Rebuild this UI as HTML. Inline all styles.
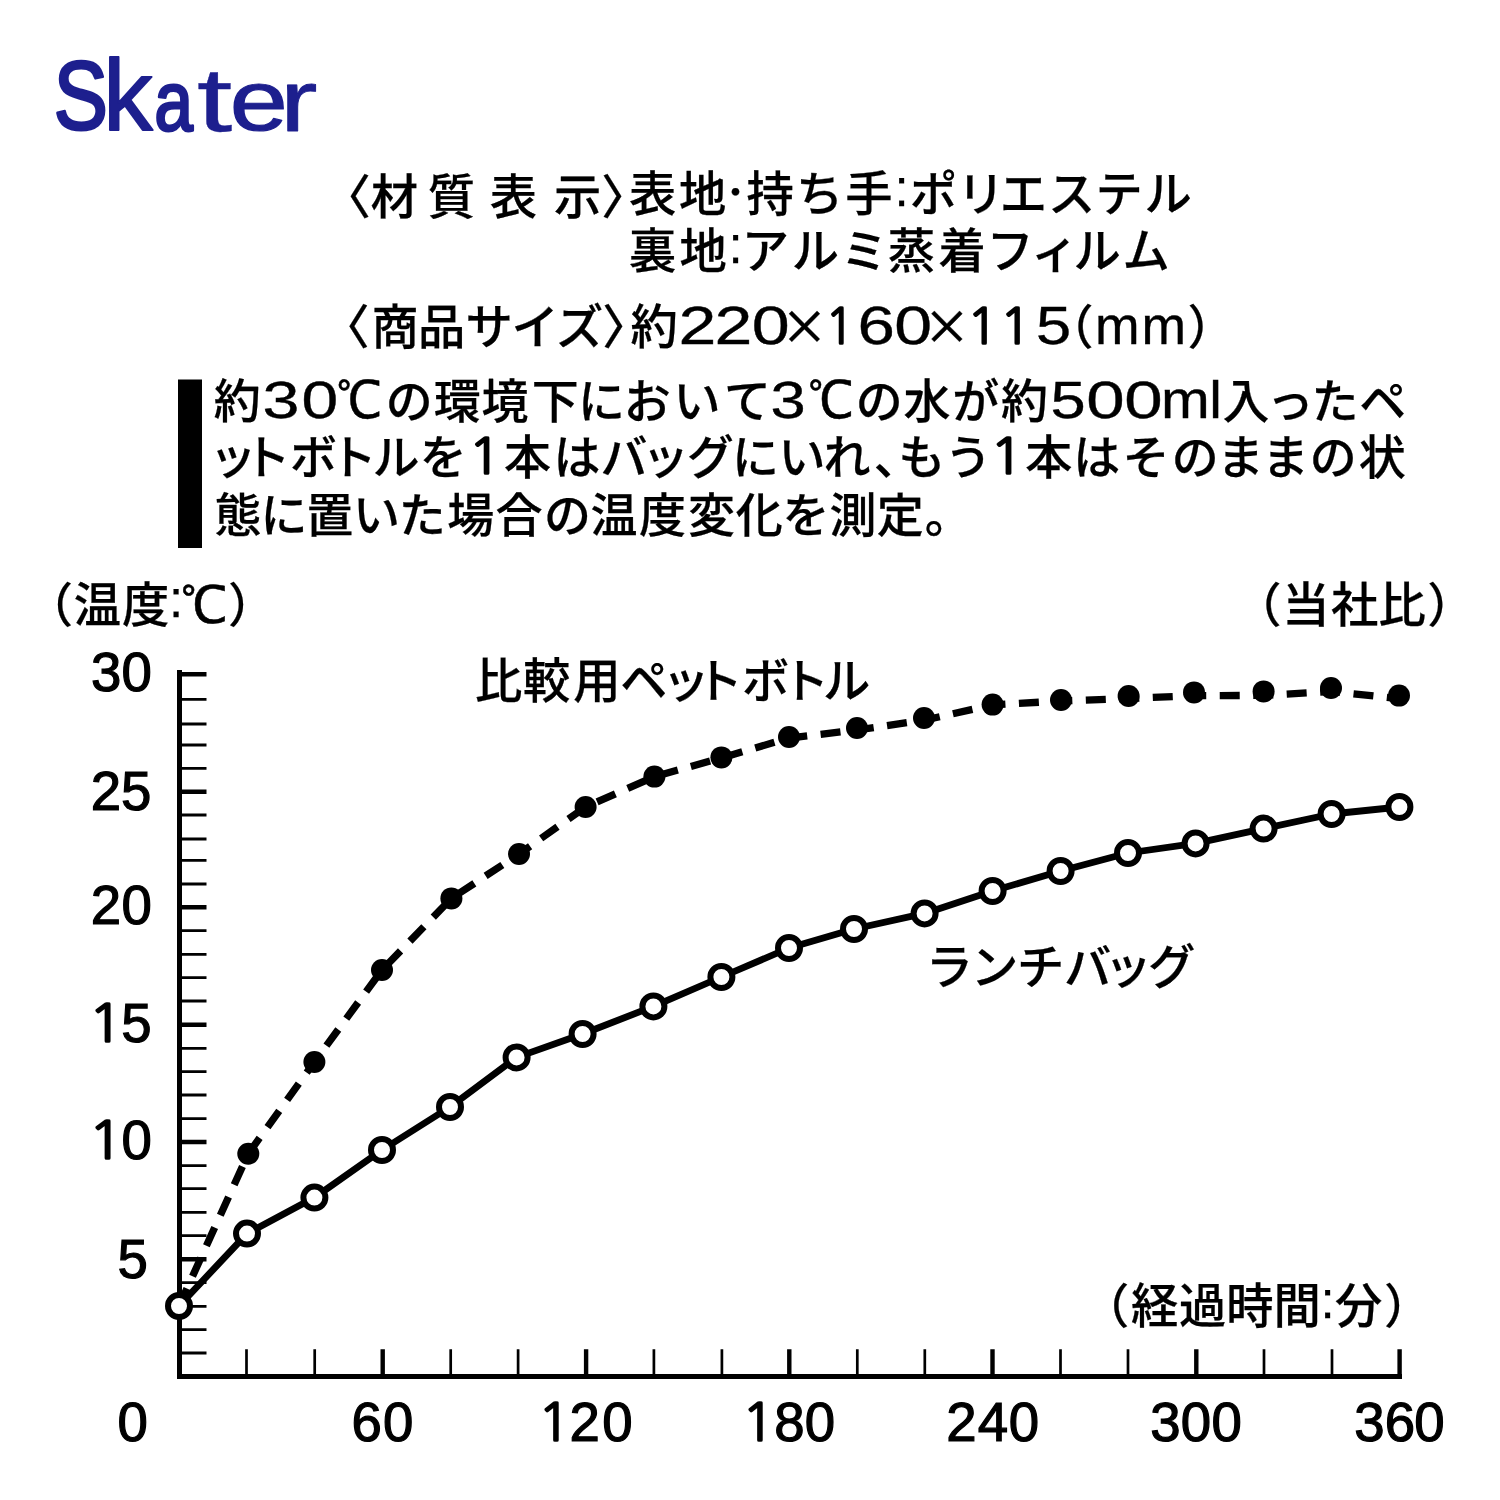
<!DOCTYPE html>
<html lang="ja">
<head>
<meta charset="utf-8">
<title>Skater</title>
<style>
html,body{margin:0;padding:0;background:#fff;}
body{width:1500px;height:1500px;overflow:hidden;}
svg{display:block;}
text{white-space:pre;}
</style>
</head>
<body>
<svg width="1500" height="1500" viewBox="0 0 1500 1500" fill="#000">
<rect width="1500" height="1500" fill="#fff"/>
<!-- logo -->
<text font-family='"Liberation Sans","Noto Sans CJK JP",sans-serif' fill="#1d1f8e" stroke="#1d1f8e" stroke-linejoin="round"><tspan x="53.82" y="129.45" font-size="96.89" font-weight="400" stroke-width="3" textLength="54.11" lengthAdjust="spacingAndGlyphs">S</tspan><tspan x="103.24" y="130.1" font-size="100.19" font-weight="400" stroke-width="1.8" textLength="49.41" lengthAdjust="spacingAndGlyphs">k</tspan><tspan x="154.47" y="129.59" font-size="82.87" font-weight="400" stroke-width="3" textLength="38.33" lengthAdjust="spacingAndGlyphs">a</tspan><tspan x="196.71" y="130.84" font-size="90.78" font-weight="400" stroke-width="0.3" textLength="35.68" lengthAdjust="spacingAndGlyphs">t</tspan><tspan x="229.86" y="130.46" font-size="86.15" font-weight="400" stroke-width="1.2" textLength="58.08" lengthAdjust="spacingAndGlyphs">e</tspan><tspan x="279.94" y="130.6" font-size="86.42" font-weight="400" stroke-width="0.8" textLength="37.43" lengthAdjust="spacingAndGlyphs">r</tspan></text>
<!-- spec text -->
<text font-family='"Noto Sans CJK JP","Liberation Sans",sans-serif' font-size="47.3" font-weight="500" stroke="#000" stroke-width="0.25"><tspan x="323.48 370.73 418 427.86 478 489.74 540 553.99 601.22" y="214.2">〈材 質 表 示〉</tspan><tspan x="628.94 678.9" y="210.9">表地</tspan><tspan font-size="35" font-weight="400" x="718" y="205">・</tspan><tspan x="746.59 796.11 845.3" y="210.9">持ち手</tspan><tspan font-family='"Liberation Sans","Noto Sans CJK JP",sans-serif' font-size="51" font-weight="400" x="894.42" y="206">:</tspan><tspan x="909.63 957.17 999.85 1047.92 1095.59 1144.52" y="210.9">ポリエステル</tspan></text>
<text font-family='"Noto Sans CJK JP","Liberation Sans",sans-serif' font-size="47.3" font-weight="500" stroke="#000" stroke-width="0.25"><tspan x="628.94 679.4" y="267.6">裏地</tspan><tspan font-family='"Liberation Sans","Noto Sans CJK JP",sans-serif' font-size="51" font-weight="400" x="728.52" y="262.7">:</tspan><tspan x="741.66 791.77 840.86 887.82 938.43 986.57 1030.95 1073.52 1122.59" y="267.6">アルミ蒸着フィルム</tspan></text>
<text font-family='"Noto Sans CJK JP","Liberation Sans",sans-serif' font-size="47.3" font-weight="500" stroke="#000" stroke-width="0.25"><tspan x="322.28 371.55 417.96 465.61 511.53 556.09 602.22 630.43" y="343.5">〈商品サイズ〉約</tspan><tspan font-family='"Liberation Sans","Noto Sans CJK JP",sans-serif' font-size="53" font-weight="400" stroke="#000" stroke-width="0.35" x="678.58" textLength="37.84" lengthAdjust="spacingAndGlyphs" y="343.5">2</tspan><tspan font-family='"Liberation Sans","Noto Sans CJK JP",sans-serif' font-size="53" font-weight="400" stroke="#000" stroke-width="0.35" x="714.58" textLength="37.84" lengthAdjust="spacingAndGlyphs" y="343.5">2</tspan><tspan font-family='"Liberation Sans","Noto Sans CJK JP",sans-serif' font-size="53" font-weight="400" stroke="#000" stroke-width="0.35" x="751.74" textLength="37.93" lengthAdjust="spacingAndGlyphs" y="343.5">0</tspan><tspan x="780.83" y="343.5">×</tspan><tspan font-family='"NanumGothic","Liberation Sans",sans-serif' font-size="50.3" font-weight="400" stroke="#000" stroke-width="1.7" x="825.12" textLength="29.37" lengthAdjust="spacingAndGlyphs" y="343.5">1</tspan><tspan font-family='"Liberation Sans","Noto Sans CJK JP",sans-serif' font-size="53" font-weight="400" stroke="#000" stroke-width="0.35" x="857.59" textLength="37.36" lengthAdjust="spacingAndGlyphs" y="343.5">6</tspan><tspan font-family='"Liberation Sans","Noto Sans CJK JP",sans-serif' font-size="53" font-weight="400" stroke="#000" stroke-width="0.35" x="894.34" textLength="37.81" lengthAdjust="spacingAndGlyphs" y="343.5">0</tspan><tspan x="923.33" y="343.5">×</tspan><tspan font-family='"NanumGothic","Liberation Sans",sans-serif' font-size="50.3" font-weight="400" stroke="#000" stroke-width="1.7" x="966.49" textLength="32.04" lengthAdjust="spacingAndGlyphs" y="343.5">1</tspan><tspan font-family='"NanumGothic","Liberation Sans",sans-serif' font-size="50.3" font-weight="400" stroke="#000" stroke-width="1.7" x="999.49" textLength="32.04" lengthAdjust="spacingAndGlyphs" y="343.5">1</tspan><tspan font-family='"Liberation Sans","Noto Sans CJK JP",sans-serif' font-size="53" font-weight="400" stroke="#000" stroke-width="0.35" x="1035.97" textLength="35.19" lengthAdjust="spacingAndGlyphs" y="343.5">5</tspan><tspan x="1046.31" y="343.5">（</tspan><tspan font-family='"Liberation Sans","Noto Sans CJK JP",sans-serif' font-size="53" font-weight="400" stroke="#000" stroke-width="0.35" x="1094.95" textLength="44.58" lengthAdjust="spacingAndGlyphs" y="343.5">m</tspan><tspan font-family='"Liberation Sans","Noto Sans CJK JP",sans-serif' font-size="53" font-weight="400" stroke="#000" stroke-width="0.35" x="1141.45" textLength="44.58" lengthAdjust="spacingAndGlyphs" y="343.5">m</tspan><tspan x="1187.39" y="343.5">）</tspan></text>
<!-- test description -->
<rect x="178" y="379.5" width="24" height="168.5" fill="#000"/>
<text font-family='"Noto Sans CJK JP","Liberation Sans",sans-serif' font-size="47" font-weight="500" stroke="#000" stroke-width="0.25"><tspan x="213.82" y="417.8">約</tspan><tspan font-family='"Liberation Sans","Noto Sans CJK JP",sans-serif' font-size="51" font-weight="400" stroke="#000" stroke-width="0.35" x="262.47" textLength="36.95" lengthAdjust="spacingAndGlyphs" y="417.8">3</tspan><tspan font-family='"Liberation Sans","Noto Sans CJK JP",sans-serif' font-size="51" font-weight="400" stroke="#000" stroke-width="0.35" x="301.43" textLength="36.65" lengthAdjust="spacingAndGlyphs" y="417.8">0</tspan><tspan font-family='"WenQuanYi Zen Hei","Noto Sans CJK JP",sans-serif' font-size="52.39" font-weight="400" stroke="#000" stroke-width="0.5" x="336.6" textLength="45.34" lengthAdjust="spacingAndGlyphs" y="418.08">℃</tspan><tspan x="385.66 433.64 481.41 531.73 578.08 623.8 673.4 723.89" y="417.8">の環境下において</tspan><tspan font-family='"Liberation Sans","Noto Sans CJK JP",sans-serif' font-size="51" font-weight="400" stroke="#000" stroke-width="0.35" x="770.59" textLength="35.19" lengthAdjust="spacingAndGlyphs" y="417.8">3</tspan><tspan font-family='"WenQuanYi Zen Hei","Noto Sans CJK JP",sans-serif' font-size="52.39" font-weight="400" stroke="#000" stroke-width="0.5" x="807.88" textLength="45.57" lengthAdjust="spacingAndGlyphs" y="418.08">℃</tspan><tspan x="855.66 903.48 952.18 1001.07" y="417.8">の水が約</tspan><tspan font-family='"Liberation Sans","Noto Sans CJK JP",sans-serif' font-size="51" font-weight="400" stroke="#000" stroke-width="0.35" x="1050.47" textLength="35.19" lengthAdjust="spacingAndGlyphs" y="417.8">5</tspan><tspan font-family='"Liberation Sans","Noto Sans CJK JP",sans-serif' font-size="51" font-weight="400" stroke="#000" stroke-width="0.35" x="1086.3" textLength="38.39" lengthAdjust="spacingAndGlyphs" y="417.8">0</tspan><tspan font-family='"Liberation Sans","Noto Sans CJK JP",sans-serif' font-size="51" font-weight="400" stroke="#000" stroke-width="0.35" x="1124.3" textLength="38.39" lengthAdjust="spacingAndGlyphs" y="417.8">0</tspan><tspan font-family='"Liberation Sans","Noto Sans CJK JP",sans-serif' font-size="51" font-weight="400" stroke="#000" stroke-width="0.35" x="1161.11" textLength="48.74" lengthAdjust="spacingAndGlyphs" y="417.8">m</tspan><tspan font-family='"Liberation Sans","Noto Sans CJK JP",sans-serif' font-size="51" font-weight="400" stroke="#000" stroke-width="0.35" x="1209.17" textLength="12.64" lengthAdjust="spacingAndGlyphs" y="417.8">l</tspan><tspan x="1222.45 1266.69 1311.52 1359.19" y="417.8">入ったペ</tspan></text>
<text font-family='"Noto Sans CJK JP","Liberation Sans",sans-serif' font-size="47" font-weight="500" stroke="#000" stroke-width="0.25"><tspan x="209.44 243.39 289.94 329.64 372.42 419.84" y="474.3">ットボトルを</tspan><tspan font-family='"NanumGothic","Liberation Sans",sans-serif' font-size="49.8" font-weight="400" stroke="#000" stroke-width="1.7" x="467.92" textLength="33.64" lengthAdjust="spacingAndGlyphs" y="474.3">1</tspan><tspan x="503.91 553.52 600.53 641.94 686.7 732.08 778.4 823.44 873.67 898.21 944.68" y="474.3">本はバッグにいれ、もう</tspan><tspan font-family='"NanumGothic","Liberation Sans",sans-serif' font-size="49.8" font-weight="400" stroke="#000" stroke-width="1.7" x="989.53" textLength="34.44" lengthAdjust="spacingAndGlyphs" y="474.3">1</tspan><tspan x="1025.16 1073.27 1122.54 1171.66 1216.94 1261.94 1309.66 1358.81" y="474.3">本はそのままの状</tspan></text>
<text font-family='"Noto Sans CJK JP","Liberation Sans",sans-serif' font-size="47" font-weight="500" stroke="#000" stroke-width="0.25"><tspan x="214.48 260.58 306.16 352.9 398.76 447.14 495.59 543.91 590.5 638.94 688.11 735.78 782.59 829.42 876.74 924.66" y="532.1">態に置いた場合の温度変化を測定。</tspan></text>
<!-- chart -->
<g stroke="#000" fill="none" stroke-linecap="butt">
<path d="M179.5 670 V1376.5 H1402" stroke-width="5" stroke-linejoin="miter"/>
<path d="M179.5 1353H206.5M179.5 1329.6H206.5M179.5 1306.3H206.5M179.5 1282.7H206.5M179.5 1235.7H206.5M179.5 1212.4H206.5M179.5 1188.7H206.5M179.5 1165.6H206.5M179.5 1118.7H206.5M179.5 1095H206.5M179.5 1071.6H206.5M179.5 1048.4H206.5M179.5 1001H206.5M179.5 977.7H206.5M179.5 954.3H206.5M179.5 930.7H206.5M179.5 884H206.5M179.5 860.4H206.5M179.5 839H206.5M179.5 815H206.5M179.5 768.3H206.5M179.5 745H206.5M179.5 724H206.5M179.5 699.3H206.5" stroke-width="2.8"/>
<path d="M179.5 1259.3H206.5M179.5 1142H206.5M179.5 1024.7H206.5M179.5 907.3H206.5M179.5 791.7H206.5M179.5 674.3H206.5" stroke-width="4.6"/>
<path d="M246.5 1349.3V1376.5M314.7 1349.3V1376.5M450.7 1349.3V1376.5M518.1 1349.3V1376.5M653.9 1349.3V1376.5M721.9 1349.3V1376.5M857.3 1349.3V1376.5M924.8 1349.3V1376.5M1060.5 1349.3V1376.5M1128 1349.3V1376.5M1264 1349.3V1376.5M1332 1349.3V1376.5" stroke-width="2.7"/>
<path d="M382.7 1349.3V1376.5M586.1 1349.3V1376.5M789.3 1349.3V1376.5M992.5 1349.3V1376.5M1196.3 1349.3V1376.5M1399.6 1349.3V1376.5" stroke-width="4.4"/>
<polyline points="179,1306 248.3,1153.7 314.4,1062 382,970 451.4,898.4 519,854 585.6,807 654.4,776.6 721.4,757.9 789,738 857,730 924,720.2 992.6,704.9 1061,701 1128.6,698.5 1194,695.7 1263.6,695.4 1331,691.5 1399,698.6" stroke-width="7.3" stroke-dasharray="20 13.5" stroke-dashoffset="0.8" stroke-linejoin="round"/>
<polyline points="179,1306 247,1233.6 314.4,1197.6 382,1150 450,1107 516.6,1057.4 582.6,1034 653.4,1006.4 721.4,977 789,948 854,929 924.6,913.4 992.6,891 1060.6,871 1128,853 1195.6,843.4 1263.6,828.6 1331.6,814 1399.4,807" stroke-width="6.8" stroke-linejoin="round"/>
</g>
<g fill="#000"><circle cx="248.3" cy="1153.7" r="11"/><circle cx="314.4" cy="1062" r="11"/><circle cx="382" cy="970" r="11"/><circle cx="451.4" cy="898.4" r="11"/><circle cx="519" cy="854" r="11"/><circle cx="585.6" cy="807" r="11"/><circle cx="654.4" cy="776.6" r="11"/><circle cx="721.4" cy="757.4" r="11"/><circle cx="789" cy="737" r="11"/><circle cx="857" cy="728" r="11"/><circle cx="924" cy="718" r="11"/><circle cx="992.6" cy="704.6" r="11"/><circle cx="1061" cy="700" r="11"/><circle cx="1128.6" cy="696" r="11"/><circle cx="1194" cy="692.4" r="11"/><circle cx="1263.6" cy="691.4" r="11"/><circle cx="1331" cy="688" r="11"/><circle cx="1399" cy="695.6" r="11"/></g>
<g fill="#fff" stroke="#000" stroke-width="6"><circle cx="179" cy="1306" r="11"/><circle cx="247" cy="1233.6" r="11"/><circle cx="314.4" cy="1197.6" r="11"/><circle cx="382" cy="1150" r="11"/><circle cx="450" cy="1107" r="11"/><circle cx="516.6" cy="1057.4" r="11"/><circle cx="582.6" cy="1034" r="11"/><circle cx="653.4" cy="1006.4" r="11"/><circle cx="721.4" cy="977" r="11"/><circle cx="789" cy="948" r="11"/><circle cx="854" cy="929" r="11"/><circle cx="924.6" cy="913.4" r="11"/><circle cx="992.6" cy="891" r="11"/><circle cx="1060.6" cy="871" r="11"/><circle cx="1128" cy="853" r="11"/><circle cx="1195.6" cy="843.4" r="11"/><circle cx="1263.6" cy="828.6" r="11"/><circle cx="1331.6" cy="814" r="11"/><circle cx="1399.4" cy="807" r="11"/></g>
<text font-family='"Noto Sans CJK JP","Liberation Sans",sans-serif' font-size="47.3" font-weight="500" stroke="#000" stroke-width="0.25"><tspan x="25.81 73.85 122.04" y="622.3">（温度</tspan><tspan font-family='"Liberation Sans","Noto Sans CJK JP",sans-serif' font-size="51" font-weight="400" x="168.92" y="617.4">:</tspan><tspan font-family='"WenQuanYi Zen Hei","Noto Sans CJK JP",sans-serif' font-size="52.12" font-weight="400" stroke="#000" stroke-width="0.5" x="180.83" textLength="46.69" lengthAdjust="spacingAndGlyphs" y="622.88">℃</tspan><tspan x="227.94" y="622.3">）</tspan></text>
<text font-family='"Noto Sans CJK JP","Liberation Sans",sans-serif' font-size="47.3" font-weight="500" stroke="#000" stroke-width="0.25"><tspan x="1234.31 1282.28 1331.06 1378.61 1427.19" y="621.5">（当社比）</tspan></text>
<text font-family='"Noto Sans CJK JP","Liberation Sans",sans-serif' font-size="47.3" font-weight="500" stroke="#000" stroke-width="0.25"><tspan x="475.11 523.07 573.22 620.29 662.28 695.46 742.04 781.71 823.02" y="697.8">比較用ペットボトル</tspan></text>
<text font-family='"Noto Sans CJK JP","Liberation Sans",sans-serif' font-size="47.3" font-weight="500" stroke="#000" stroke-width="0.25"><tspan x="925.71 970.91 1016.93 1063.88 1104.43 1147.95" y="983.5">ランチバッグ</tspan></text>
<text font-family='"Noto Sans CJK JP","Liberation Sans",sans-serif' font-size="47.3" font-weight="500" stroke="#000" stroke-width="0.25"><tspan x="1081.96 1131.02 1179.02 1226.15 1273.51" y="1323">（経過時間</tspan><tspan font-family='"Liberation Sans","Noto Sans CJK JP",sans-serif' font-size="51" font-weight="400" x="1320.62" y="1318.1">:</tspan><tspan x="1335.02 1384.04" y="1323">分）</tspan></text>
<text font-family='"Liberation Sans","Noto Sans CJK JP",sans-serif' font-size="54.6" font-weight="400" stroke="#000" stroke-width="1.2"><tspan x="90.98 121.47" y="690.8">30</tspan></text>
<text font-family='"Liberation Sans","Noto Sans CJK JP",sans-serif' font-size="54.6" font-weight="400" stroke="#000" stroke-width="1.2"><tspan x="90.67 121.02" y="809.5">25</tspan></text>
<text font-family='"Liberation Sans","Noto Sans CJK JP",sans-serif' font-size="54.6" font-weight="400" stroke="#000" stroke-width="1.2"><tspan x="90.67 121.47" y="924.3">20</tspan></text>
<text font-family='"Liberation Sans","Noto Sans CJK JP",sans-serif' font-size="54.6" font-weight="400" stroke="#000" stroke-width="1.2"><tspan font-family='"NanumGothic","Liberation Sans",sans-serif' font-size="51.81" stroke="#000" stroke-width="1.7" x="87.98" textLength="35.51" lengthAdjust="spacingAndGlyphs" y="1041.5">1</tspan><tspan x="121.27" y="1041.5">5</tspan></text>
<text font-family='"Liberation Sans","Noto Sans CJK JP",sans-serif' font-size="54.6" font-weight="400" stroke="#000" stroke-width="1.2"><tspan font-family='"NanumGothic","Liberation Sans",sans-serif' font-size="51.81" stroke="#000" stroke-width="1.7" x="87.98" textLength="35.51" lengthAdjust="spacingAndGlyphs" y="1158.8">1</tspan><tspan x="121.47" y="1158.8">0</tspan></text>
<text font-family='"Liberation Sans","Noto Sans CJK JP",sans-serif' font-size="54.6" font-weight="400" stroke="#000" stroke-width="1.2"><tspan x="117.52" y="1278.2">5</tspan></text>
<text font-family='"Liberation Sans","Noto Sans CJK JP",sans-serif' font-size="54.6" font-weight="400" stroke="#000" stroke-width="1.2"><tspan x="117.52" y="1441.3">0</tspan></text>
<text font-family='"Liberation Sans","Noto Sans CJK JP",sans-serif' font-size="54.6" font-weight="400" stroke="#000" stroke-width="1.2"><tspan x="351.58 382.97" y="1441.3">60</tspan></text>
<text font-family='"Liberation Sans","Noto Sans CJK JP",sans-serif' font-size="54.6" font-weight="400" stroke="#000" stroke-width="1.2"><tspan font-family='"NanumGothic","Liberation Sans",sans-serif' font-size="51.81" stroke="#000" stroke-width="1.7" x="537.48" textLength="33.37" lengthAdjust="spacingAndGlyphs" y="1441.3">1</tspan><tspan x="569.47 602.17" y="1441.3">20</tspan></text>
<text font-family='"Liberation Sans","Noto Sans CJK JP",sans-serif' font-size="54.6" font-weight="400" stroke="#000" stroke-width="1.2"><tspan font-family='"NanumGothic","Liberation Sans",sans-serif' font-size="51.81" stroke="#000" stroke-width="1.7" x="741.48" textLength="33.37" lengthAdjust="spacingAndGlyphs" y="1441.3">1</tspan><tspan x="774.17 804.82" y="1441.3">80</tspan></text>
<text font-family='"Liberation Sans","Noto Sans CJK JP",sans-serif' font-size="54.6" font-weight="400" stroke="#000" stroke-width="1.2"><tspan x="946.17 977.64 1008.82" y="1441.3">240</tspan></text>
<text font-family='"Liberation Sans","Noto Sans CJK JP",sans-serif' font-size="54.6" font-weight="400" stroke="#000" stroke-width="1.2"><tspan x="1150.33 1180.82 1211.47" y="1441.3">300</tspan></text>
<text font-family='"Liberation Sans","Noto Sans CJK JP",sans-serif' font-size="54.6" font-weight="400" stroke="#000" stroke-width="1.2"><tspan x="1354.33 1384.63 1414.17" y="1441.3">360</tspan></text>
</svg>
</body>
</html>
